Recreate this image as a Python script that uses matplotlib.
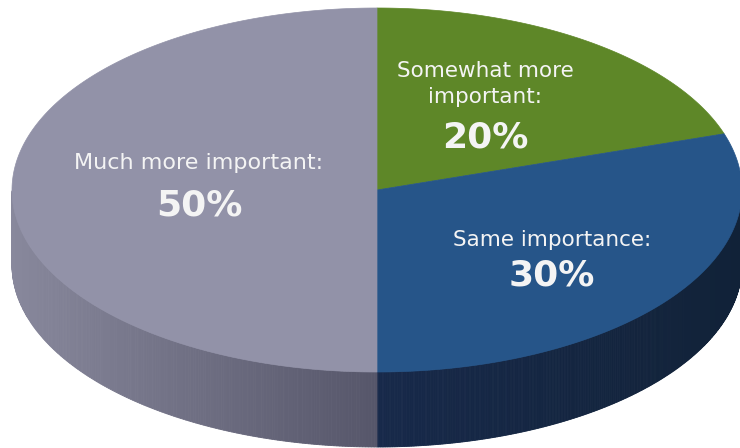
import numpy as np
import matplotlib.pyplot as plt
from matplotlib.patches import Polygon
import matplotlib.colors as mcolors

# Survey shares
labels = ['Somewhat more\nimportant:', 'Same importance:', 'Much more important:']
values = [20, 30, 50]
top_colors = ['#5e8728', '#265589', '#9292a8']
side_light = ['#4a6a20', '#112238', '#88889c']
side_dark = ['#3c561a', '#17294a', '#56566a']

# Ellipse geometry in pixels
cx, cy = 377, 190
rx, ry = 365, 182
depth = 75

fig = plt.figure(figsize=(7.4, 4.48), dpi=100)
ax = fig.add_axes([0, 0, 1, 1])
ax.set_xlim(0, 740)
ax.set_ylim(448, 0)
ax.axis('off')


def pt(theta, dy=0):
    return cx + rx * np.cos(theta), cy - ry * np.sin(theta) + dy


# slice angles, clockwise from 12 o'clock
fracs = np.array(values) / sum(values)
starts = np.pi / 2 - 2 * np.pi * np.concatenate([[0], np.cumsum(fracs)[:-1]])
ends = starts - 2 * np.pi * fracs

# side walls (front half only), shaded by horizontal position
for i in range(len(values)):
    a0, a1 = starts[i], ends[i]
    lo, hi = min(a0, a1), max(a0, a1)
    ts = np.linspace(lo, hi, 400)
    vis = np.sin(ts) <= 1e-9
    if not vis.any():
        continue
    ts = ts[vis]
    c_light = np.array(mcolors.to_rgb(side_light[i]))
    c_dark = np.array(mcolors.to_rgb(side_dark[i]))
    for t0, t1 in zip(ts[:-1], ts[1:]):
        x0, y0 = pt(t0)
        x1, y1 = pt(t1)
        xm = (x0 + x1) / 2
        w = abs(xm - cx) / rx
        col = c_dark + (c_light - c_dark) * w
        quad = [(x0, y0), (x1, y1), (x1, y1 + depth), (x0, y0 + depth)]
        ax.add_patch(Polygon(quad, closed=True, facecolor=col, edgecolor=col, lw=0.6))

# top faces
for i in range(len(values)):
    ts = np.linspace(starts[i], ends[i], 300)
    xs, ys = pt(ts)
    poly = [(cx, cy)] + list(zip(xs, ys))
    ax.add_patch(Polygon(poly, closed=True, facecolor=top_colors[i],
                         edgecolor=top_colors[i], lw=0.5))

# labels
txt = '#f4f4f4'
ax.text(485, 84, labels[0], ha='center', va='center', color=txt,
        fontsize=15.5, linespacing=1.4)
ax.text(485, 137, f'{values[0]}%', ha='center', va='center', color=txt,
        fontsize=26, fontweight='bold')
ax.text(552, 240, labels[1], ha='center', va='center', color=txt, fontsize=15.5)
ax.text(552, 276, f'{values[1]}%', ha='center', va='center', color=txt,
        fontsize=26, fontweight='bold')
ax.text(199, 163, labels[2], ha='center', va='center', color=txt, fontsize=16)
ax.text(199, 205, f'{values[2]}%', ha='center', va='center', color=txt,
        fontsize=26, fontweight='bold')

fig.savefig('out.png', dpi=100)
